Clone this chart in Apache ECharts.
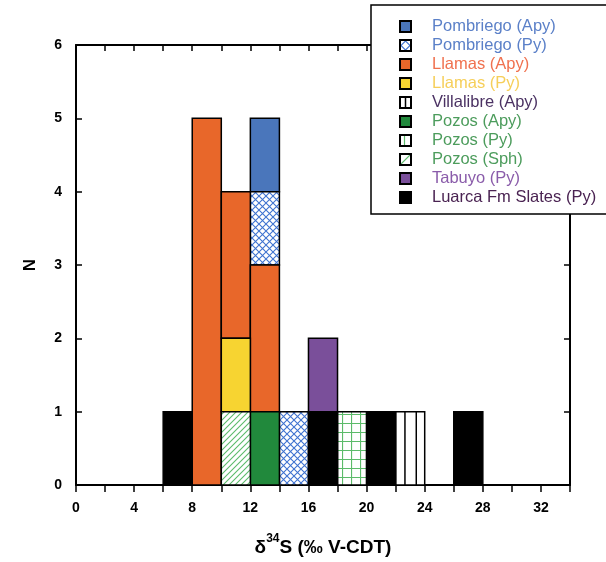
<!DOCTYPE html>
<html><head><meta charset="utf-8">
<script src="https://cdn.jsdelivr.net/npm/echarts@6/dist/echarts.min.js"></script>
<style>html,body{margin:0;padding:0;background:#fff}#c{width:606px;height:562px}</style>
</head><body><div id="c"></div><script>
// ---- DATA (bin start values, 2‰ wide bins; counts N) ----
const binWidth = 2;
const seriesNames = ['Pombriego (Apy)','Pombriego (Py)','Llamas (Apy)','Llamas (Py)','Villalibre (Apy)','Pozos (Apy)','Pozos (Py)','Pozos (Sph)','Tabuyo (Py)','Luarca Fm Slates (Py)'];
const pombriegoApyBins = [12];        const pombriegoApyN = [1];
const pombriegoPyBins  = [12, 14];    const pombriegoPyN  = [1, 1];
const llamasApyBins    = [8, 10, 12]; const llamasApyN    = [5, 2, 2];
const llamasPyBins     = [10];        const llamasPyN     = [1];
const villalibreApyBins= [22];        const villalibreApyN= [1];
const pozosApyBins     = [12];        const pozosApyN     = [1];
const pozosPyBins      = [18];        const pozosPyN      = [1];
const pozosSphBins     = [10];        const pozosSphN     = [1];
const tabuyoPyBins     = [16];        const tabuyoPyN     = [1];
const luarcaBins       = [6, 16, 20, 26]; const luarcaN   = [1, 1, 1, 1];
const xTicks = [0, 4, 8, 12, 16, 20, 24, 28, 32];
const yTicks = [0, 1, 2, 3, 4, 5, 6];

const seriesData = {
  'Pombriego (Apy)': [pombriegoApyBins, pombriegoApyN],
  'Pombriego (Py)': [pombriegoPyBins, pombriegoPyN],
  'Llamas (Apy)': [llamasApyBins, llamasApyN],
  'Llamas (Py)': [llamasPyBins, llamasPyN],
  'Villalibre (Apy)': [villalibreApyBins, villalibreApyN],
  'Pozos (Apy)': [pozosApyBins, pozosApyN],
  'Pozos (Py)': [pozosPyBins, pozosPyN],
  'Pozos (Sph)': [pozosSphBins, pozosSphN],
  'Tabuyo (Py)': [tabuyoPyBins, tabuyoPyN],
  'Luarca Fm Slates (Py)': [luarcaBins, luarcaN]
};
// stacking order, bottom to top
const stackOrder = ['Luarca Fm Slates (Py)','Pozos (Sph)','Pozos (Apy)','Pozos (Py)','Villalibre (Apy)','Llamas (Py)','Llamas (Apy)','Tabuyo (Py)','Pombriego (Py)','Pombriego (Apy)'];

// ---- STYLES ----
const BLUE='#4a76bb', BLUE_L='#3f73d0', ORANGE='#e8672a', YELLOW='#f7d431', GREEN='#21893c', GREEN_L='#5cbb6a', PURPLE='#7a4f9a';
const textColors = {
  'Pombriego (Apy)':'#5b80c8','Pombriego (Py)':'#5b80c8','Llamas (Apy)':'#f0714f','Llamas (Py)':'#f6cf5a',
  'Villalibre (Apy)':'#4b3263','Pozos (Apy)':'#4c9c5c','Pozos (Py)':'#4c9c5c','Pozos (Sph)':'#4c9c5c',
  'Tabuyo (Py)':'#8a5caa','Luarca Fm Slates (Py)':'#4a2352'
};
function canvas(w,h){const c=document.createElement('canvas');c.width=w;c.height=h;return c;}
function patCross(){const s=7,c=canvas(s,s),g=c.getContext('2d');g.fillStyle='#fff';g.fillRect(0,0,s,s);
  g.strokeStyle=BLUE_L;g.lineWidth=1.1;g.beginPath();g.moveTo(0,0);g.lineTo(s,s);g.moveTo(s,0);g.lineTo(0,s);g.stroke();return c;}
function patDiag(){const s=6,c=canvas(s,s),g=c.getContext('2d');g.fillStyle='#fff';g.fillRect(0,0,s,s);
  g.strokeStyle=GREEN_L;g.lineWidth=1.1;g.beginPath();g.moveTo(0,s);g.lineTo(s,0);g.moveTo(-1,1);g.lineTo(1,-1);g.moveTo(s-1,s+1);g.lineTo(s+1,s-1);g.stroke();return c;}
function patGrid(){const s=9,c=canvas(s,s),g=c.getContext('2d');g.fillStyle='#fff';g.fillRect(0,0,s,s);
  g.strokeStyle=GREEN_L;g.lineWidth=1.2;g.beginPath();g.moveTo(0.5,0);g.lineTo(0.5,s);g.moveTo(0,0.5);g.lineTo(s,0.5);g.stroke();return c;}
const fills = {
  'Pombriego (Apy)': BLUE,
  'Pombriego (Py)': {image: patCross(), repeat:'repeat'},
  'Llamas (Apy)': ORANGE,
  'Llamas (Py)': YELLOW,
  'Villalibre (Apy)': '#fff',
  'Pozos (Apy)': GREEN,
  'Pozos (Py)': {image: patGrid(), repeat:'repeat'},
  'Pozos (Sph)': {image: patDiag(), repeat:'repeat'},
  'Tabuyo (Py)': PURPLE,
  'Luarca Fm Slates (Py)': '#000'
};
function legendIcon(name){
  const s=26,c=canvas(s,s),g=c.getContext('2d');
  const f=fills[name];
  if(typeof f==='string'){g.fillStyle=f;g.fillRect(0,0,s,s);} else {g.fillStyle='#fff';g.fillRect(0,0,s,s);}
  g.lineWidth=2.4;
  if(name==='Pombriego (Py)'){g.strokeStyle=BLUE_L;g.beginPath();g.moveTo(13,4);g.lineTo(22,13);g.lineTo(13,22);g.lineTo(4,13);g.closePath();g.stroke();}
  if(name==='Villalibre (Apy)'){g.strokeStyle='#000';g.lineWidth=3;g.beginPath();g.moveTo(13,0);g.lineTo(13,s);g.stroke();}
  if(name==='Pozos (Py)'){g.strokeStyle=GREEN_L;g.beginPath();g.moveTo(11,0);g.lineTo(11,s);g.stroke();}
  if(name==='Pozos (Sph)'){g.strokeStyle=GREEN_L;g.beginPath();g.moveTo(2,s-2);g.lineTo(s-2,2);g.stroke();}
  g.strokeStyle='#000';g.lineWidth=4;g.strokeRect(2,2,s-4,s-4);
  return 'image://'+c.toDataURL();
}

// build stacked rectangles
const bottoms = {};
const built = {};
stackOrder.forEach(name=>{
  const [bins, ns] = seriesData[name];
  built[name] = bins.map((b,i)=>{
    const y0 = bottoms[b]||0, y1 = y0+ns[i];
    bottoms[b]=y1;
    return [b, b+binWidth, y0, y1];
  });
});

function renderFor(name){
  return function(params, api){
    const p0 = api.coord([api.value(0), api.value(2)]);
    const p1 = api.coord([api.value(1), api.value(3)]);
    const x=p0[0], y=p1[1], w=p1[0]-p0[0], h=p0[1]-p1[1];
    const children=[{type:'rect',shape:{x,y,width:w,height:h},style:{fill:fills[name],stroke:'#000',lineWidth:1.5}}];
    if(name==='Villalibre (Apy)'){
      [0.32,0.71].forEach(t=>children.push({type:'line',shape:{x1:x+w*t,y1:y,x2:x+w*t,y2:y+h},style:{stroke:'#000',lineWidth:1.5}}));
    }
    return {type:'group',children};
  };
}

const series = seriesNames.map(name=>({
  name, type:'custom', xAxisIndex:0, yAxisIndex:0,
  renderItem: renderFor(name),
  encode:{x:[0,1], y:[2,3]},
  itemStyle:{color: typeof fills[name]==='string'?fills[name]:'#fff'},
  data: built[name],
  z: 3
}));

const axisLineStyle = {color:'#000', width:2};
const labelStyle = {color:'#000', fontWeight:'bold', fontSize:14, fontFamily:'Liberation Sans, Arial, sans-serif'};
const chart = echarts.init(document.getElementById('c'), null, {renderer:'canvas'});
chart.setOption({
  animation:false,
  backgroundColor:'#fff',
  grid:{left:76, right:36, top:45, bottom:75, containLabel:false},
  xAxis:[{
    type:'value', min:0, max:34, interval:2, position:'bottom',
    axisLine:{show:true, onZero:false, lineStyle:axisLineStyle},
    axisTick:{show:true, inside:false, length:7, lineStyle:{color:'#000', width:1.5}},
    axisLabel:Object.assign({margin:16, formatter:v=>xTicks.includes(v)?String(v):''}, labelStyle),
    splitLine:{show:false},
    name:'{d|δ}{s|34}{d|S (‰ V-CDT)}', nameLocation:'middle', nameGap:48,
    nameTextStyle:{rich:{
      d:{fontSize:19, fontWeight:'bold', color:'#000', fontFamily:'Liberation Sans, Arial, sans-serif', lineHeight:24, verticalAlign:'bottom'},
      s:{fontSize:12, fontWeight:'bold', color:'#000', fontFamily:'Liberation Sans, Arial, sans-serif', lineHeight:24, verticalAlign:'top', padding:[0,0,9,0]}
    }}
  },{
    type:'value', min:0, max:34, interval:2, position:'top',
    axisLine:{show:true, onZero:false, lineStyle:axisLineStyle},
    axisTick:{show:true, inside:true, length:6, lineStyle:{color:'#000', width:1.5}},
    axisLabel:{show:false}, splitLine:{show:false}
  }],
  yAxis:[{
    type:'value', min:0, max:6, interval:1, position:'left',
    axisLine:{show:true, onZero:false, lineStyle:axisLineStyle},
    axisTick:{show:true, inside:true, length:6, lineStyle:{color:'#000', width:1.5}},
    axisLabel:Object.assign({margin:14, formatter:v=>yTicks.includes(v)?String(v):''}, labelStyle),
    splitLine:{show:false},
    name:'N', nameLocation:'middle', nameGap:37, nameRotate:90,
    nameTextStyle:{fontSize:17, fontWeight:'bold', color:'#000', fontFamily:'Liberation Sans, Arial, sans-serif'}
  },{
    type:'value', min:0, max:6, interval:1, position:'right',
    axisLine:{show:true, onZero:false, lineStyle:axisLineStyle},
    axisTick:{show:true, inside:true, length:6, lineStyle:{color:'#000', width:1.5}},
    axisLabel:{show:false}, splitLine:{show:false}
  }],
  legend:{
    orient:'vertical', left:371, top:5,
    padding:[13,40,8,28],
    backgroundColor:'#fff', borderColor:'#000', borderWidth:1.5,
    itemWidth:13, itemHeight:13, itemGap:2,
    selectedMode:false,
    data: seriesNames.map(n=>({name:n, icon:legendIcon(n), textStyle:{color:textColors[n]}})),
    textStyle:{fontSize:16.5, fontFamily:'Liberation Sans, Arial, sans-serif', lineHeight:16, padding:[0,0,0,15]},
    z: 10
  },
  series
});
</script></body></html>
